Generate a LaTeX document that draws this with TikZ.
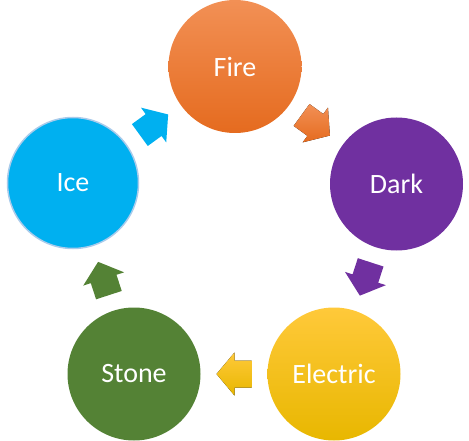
\documentclass[tikz,border=0pt]{standalone}
\usepackage{fontspec}
\setmainfont{Carlito}
\usetikzlibrary{calc}
\definecolor{fireTop}{HTML}{F29055}
\definecolor{fireBot}{HTML}{E56B1F}
\definecolor{darkc}{HTML}{7030A0}
\definecolor{elecTop}{HTML}{FFC93A}
\definecolor{elecBot}{HTML}{E8B700}
\definecolor{stonec}{HTML}{548235}
\definecolor{icec}{HTML}{00B0F0}
\definecolor{iceborder}{HTML}{A9CBEB}
\tikzset{
  ball/.style={circle, minimum size=133pt, inner sep=0pt, text=white,
    font=\fontsize{28}{32}\selectfont},
  cyclearrow/.pic={\fill[pic actions] (-17.5,13.5) -- (-0.5,13.5) -- (-0.5,21.5) -- (17.5,0)
      -- (-0.5,-21.5) -- (-0.5,-13.5) -- (-17.5,-13.5) -- cycle;}
}
\begin{document}
\begin{tikzpicture}[x=1pt,y=-1pt]
\useasboundingbox (0,0) rectangle (469,441);
\node[ball, top color=fireTop, bottom color=fireBot] (fire) at (235,66.5) {Fire};
\node[ball, fill=darkc] (dark) at (396.5,184) {Dark};
\node[ball, top color=elecTop, bottom color=elecBot] (elec) at (334,374) {Electric};
\node[ball, fill=stonec] (stone) at (134,374) {Stone};
\node[ball, fill=icec, draw=iceborder, line width=1.5pt, minimum size=131pt] (ice) at (73,183) {Ice};
\fill[top color=fireTop, bottom color=fireBot, shift={($(fire)!0.5!(dark)$)}, rotate=-36]
  (-17.5,13.5) -- (-0.5,13.5) -- (-0.5,21.5) -- (17.5,0) -- (-0.5,-21.5) -- (-0.5,-13.5) -- (-17.5,-13.5) -- cycle;
\fill[darkc, shift={($(dark)!0.5!(elec)$)}, rotate=-108]
  (-17.5,13.5) -- (-0.5,13.5) -- (-0.5,21.5) -- (17.5,0) -- (-0.5,-21.5) -- (-0.5,-13.5) -- (-17.5,-13.5) -- cycle;
\fill[top color=elecTop, bottom color=elecBot, shift={($(elec)!0.5!(stone)$)}, rotate=180]
  (-17.5,13.5) -- (-0.5,13.5) -- (-0.5,21.5) -- (17.5,0) -- (-0.5,-21.5) -- (-0.5,-13.5) -- (-17.5,-13.5) -- cycle;
\fill[stonec, shift={($(stone)!0.5!(ice)$)}, rotate=108]
  (-17.5,13.5) -- (-0.5,13.5) -- (-0.5,21.5) -- (17.5,0) -- (-0.5,-21.5) -- (-0.5,-13.5) -- (-17.5,-13.5) -- cycle;
\fill[icec, shift={($(ice)!0.5!(fire)$)}, rotate=36]
  (-17.5,13.5) -- (-0.5,13.5) -- (-0.5,21.5) -- (17.5,0) -- (-0.5,-21.5) -- (-0.5,-13.5) -- (-17.5,-13.5) -- cycle;
\end{tikzpicture}
\end{document}
